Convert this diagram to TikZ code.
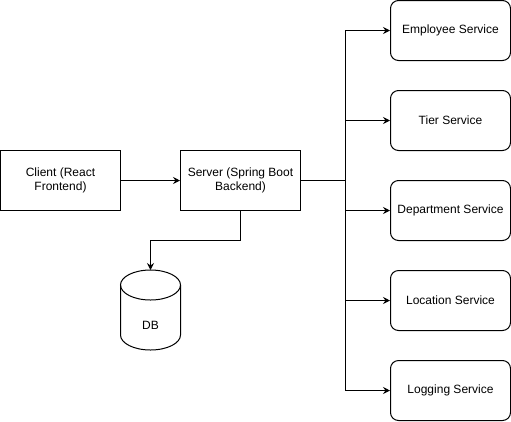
\documentclass[tikz,border=0pt]{standalone}
\usepackage{fontspec}
\setmainfont{Liberation Sans}
\usetikzlibrary{arrows.meta}
\begin{document}
\begin{tikzpicture}[x=1pt,y=-1pt,
  every node/.style={font=\fontsize{12}{14}\selectfont},
  plainbox/.style={draw,line width=1pt,minimum width=120pt,minimum height=60pt,align=center,inner sep=0pt},
  svcbox/.style={plainbox,rounded corners=8pt},
  conn/.style={line width=1pt,-{Stealth[length=7pt,width=7pt,inset=2.5pt]}},
  line/.style={line width=1pt}]
\useasboundingbox (0,0) rectangle (511,421);
\node[plainbox] (client) at (60.5,180.5) {Client (React\\Frontend)};
\node[plainbox] (server) at (240.5,180.5) {Server (Spring Boot\\Backend)};
\node[svcbox] (emp) at (450.5,30.5) {Employee Service};
\node[svcbox] (tier) at (450.5,120.5) {Tier Service};
\node[svcbox] (dept) at (450.5,210.5) {Department Service};
\node[svcbox] (loc) at (450.5,300.5) {Location Service};
\node[svcbox] (log) at (450.5,390.5) {Logging Service};
% DB cylinder
\draw[line] (120.5,285) -- (120.5,335) arc[start angle=180,end angle=0,x radius=30,y radius=15] -- (180.5,285);
\draw[line] (150.5,285) ellipse[x radius=30,y radius=15];
\node (db) at (150.5,325) {DB};
\coordinate (dbtop) at (150.5,270);
\coordinate (bus) at (345.5,180.5);
\draw[conn] (client) -- (server);
\draw[line] (server.east) -- (bus);
\draw[conn] (bus) |- (emp.west);
\draw[conn] (bus) |- (tier.west);
\draw[conn] (bus) |- (dept.west);
\draw[conn] (bus) |- (loc.west);
\draw[conn] (bus) |- (log.west);
\draw[conn] (server.south) -- (240.5,240.5) -| (dbtop);
\end{tikzpicture}
\end{document}
